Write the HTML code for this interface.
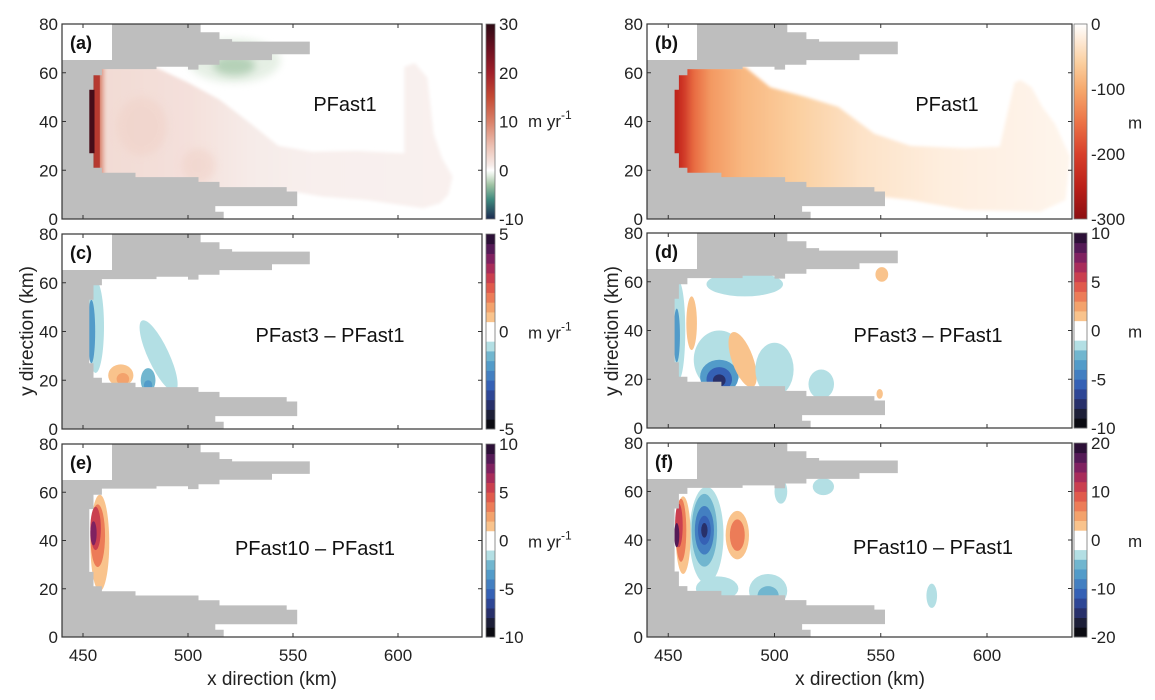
<!DOCTYPE html>
<html><head><meta charset="utf-8"><style>
html,body{margin:0;padding:0;background:#fff;}
svg{display:block;font-family:"Liberation Sans",Arial,sans-serif;}
</style></head><body>
<svg id="fig" width="1155" height="700" viewBox="0 0 1155 700" xmlns="http://www.w3.org/2000/svg">
<defs id="defs"></defs>
</svg>
<script>
// ---- data ----
const xTicks = [450, 500, 550, 600];
const yTicks = [0, 20, 40, 60, 80];
// land mask outline (km)
const landX = [440,506,506,515,515,521,521,558,558,540,540,515,515,505,505,500,500,485,485,459,459,455,455,453,453,455,455,459,459,475,475,505,505,515,515,547,547,552,552,513,513,517,517,440];
const landY = [80,80,76.6,76.6,73.8,73.8,72.8,72.8,67.6,67.6,65.2,65.2,63.3,63.3,61.3,61.3,62.5,62.5,61.5,61.5,59,59,53,53,27,27,21,21,19,19,17.2,17.2,15.2,15.2,13.1,13.1,11.3,11.3,5.3,5.3,3,3,0,0];
// plume outline panel a (km)
const plumeAX = [440,484,500,515,530,543,559,580,603,603,608,614,617,621,626,624,620,612,585,564,552,440];
const plumeAY = [62.5,62.5,56,49,39,30,27.6,28,27,62.5,64,58,35,25,17.4,10,6.4,4.4,7.8,9.2,11,11];
// plume outline panel b (km)
const plumeBX = [440,486,498,515,530,547,564,590,606,610,613,616,621,626,632,639,637,625,590,564,552,440];
const plumeBY = [62.5,62.5,54,50,46,35,30,29,29.7,45,56,57,54,46,39,25.6,7.8,3,3.7,7.8,9,9];
// panel a/b gradient value profiles along x
const gradAX = [453,455.5,458,461,480,500,530,560,640];
const gradAV = [28,17,10,2.5,2.2,2.0,1.0,0.8,0.7];
const gradBX = [453,457,462,470,485,510,540,580,640];
const gradBV = [-250,-215,-160,-115,-85,-60,-35,-20,-12];
// anomaly blobs panel a
const blobAX = [522,522,478,505];
const blobAY = [65,63,38,22];
const blobARX = [22,10,12,8];
const blobARY = [9,4,12,7];
const blobAV = [-1.0,-2.5,3.5,3.5];
// difference panels: contour blobs
const cX = [456,454,468,469,486,481,481];
const cY = [42,40,22,20.5,30,20,18];
const cRX = [4,1.8,6,3,5,3.5,2];
const cRY = [19,13,4.5,2.5,16,5,2];
const cRot = [0,0,0,0,-25,0,0];
const cV = [-0.7,-1.7,0.7,1.2,-0.7,-1.3,-1.8];

const dX = [486,474,455,454,474,474,474,461,485,500,522,550.5,549.5];
const dY = [59,28,40,38,21,20,19.5,43,28,24,18,63,14];
const dRX = [18,12,3,1.5,9,6,3,2.5,5,9,6,3,1.5];
const dRY = [5,12,20,11,7,5,2.5,11,12,11,6,3,2];
const dRot = [0,0,0,0,0,0,0,0,-20,0,0,0,0];
const dV = [-1.5,-1.5,-1.5,-3.5,-3.5,-5.5,-7.5,1.5,1.5,-1.5,-1.5,1.5,1.5];

const eX = [458,457,456,455,507];
const eY = [39,42,45,43,17];
const eRX = [4.5,3.5,2.5,1.5,1.5];
const eRY = [20,13,9,5,1.5];
const eRot = [0,0,0,0,0];
const eV = [1.5,3.5,5.5,7.5,-1];

const fX = [468,473,467,467,467,467,497,497,482.5,482.5,457,456,455,454,523,503,574];
const fY = [42,20,44,44,44,44,19,17,42,42,42,44,46,42,62,60,17];
const fRX = [8,10,6,4.5,3,1.5,9,5,5.5,3.5,3.5,2.5,1.8,1.2,5,3,2.5];
const fRY = [20,5,15,10,6,3,7,4,10,6.5,16,13,9,5,3.5,5,5];
const fRot = [0,0,0,0,0,0,0,0,0,0,0,0,0,0,0,0,0];
const fV = [-3,-3,-6,-9,-12,-15,-3,-6,3,6,3,7,11,17,-3,-3,-3];

// colorbar tick labels
const cbTicksA = [30,20,10,0,-10];
const cbTicksB = [0,-100,-200,-300];
const cbTicksC = [5,0,-5];
const cbTicksD = [10,5,0,-5,-10];
const cbTicksE = [10,5,0,-5,-10];
const cbTicksF = [20,10,0,-10,-20];

// ---- styling / helpers ----
const NS = "http://www.w3.org/2000/svg";
const svg = document.getElementById('fig');
const defs = document.getElementById('defs');
function el(tag, attrs, parent){
  const e = document.createElementNS(NS, tag);
  for (const k in attrs) e.setAttribute(k, attrs[k]);
  (parent||svg).appendChild(e);
  return e;
}
const negCols = ['#0b0b12','#1d1f38','#28306a','#2e4695','#3561b5','#437fc1','#529bc9','#71b6cf','#b3dfe4','#ffffff'];
const posCols = ['#ffffff','#f9c38c','#f3a26c','#ec7c58','#e05a4c','#ca3f4f','#a82c5a','#7f2160','#541a56','#2c1037'];
const divCols = negCols.concat(posCols);
function divColor(v, vmax){
  let idx = Math.floor((v + vmax) / (2*vmax) * 20);
  idx = Math.max(0, Math.min(19, idx));
  return divCols[idx];
}
function lerpHex(a,b,t){
  const pa=[1,3,5].map(i=>parseInt(a.substr(i,2),16));
  const pb=[1,3,5].map(i=>parseInt(b.substr(i,2),16));
  return '#'+pa.map((c,i)=>Math.round(c+(pb[i]-c)*t).toString(16).padStart(2,'0')).join('');
}
const cmapAV = [30,25,20,15,10,5,1,0,-1,-3,-6,-10];
const cmapAC = ['#2d0a14','#6a1020','#a0202a','#c44a34','#d98068','#ecc0b2','#f6ebe8','#ffffff','#e3eee2','#9fc3a3','#3f8a7e','#1c2a50'];
const cmapBV = [0,-30,-60,-100,-150,-200,-250,-300];
const cmapBC = ['#ffffff','#fde6cf','#fbcf9f','#f6a96d','#ec7447','#d8402b','#bb2019','#8c0f12'];
function contColor(v, vs, cs){
  for (let i=0;i<vs.length-1;i++){
    const a=vs[i], b=vs[i+1];
    if ((v<=a && v>=b)) return lerpHex(cs[i], cs[i+1], (a-v)/(a-b));
  }
  return v>vs[0]?cs[0]:cs[cs.length-1];
}

const panels = {
  a:{L:62,R:482,T:24,B:219, cb:[486,495], type:'a'},
  b:{L:647,R:1072,T:24,B:219, cb:[1074,1087], type:'b'},
  c:{L:62,R:482,T:234,B:429, cb:[486,495], type:'d', vmax:5},
  d:{L:647,R:1072,T:233,B:428, cb:[1074,1087], type:'d', vmax:10},
  e:{L:62,R:482,T:444,B:637, cb:[486,495], type:'d', vmax:10},
  f:{L:647,R:1072,T:443,B:637, cb:[1074,1087], type:'d', vmax:20}
};
function xs(p,km){ return p.L + (km-440)*(p.R-p.L)/200; }
function ys(p,km){ return p.B - km*(p.B-p.T)/80; }
function polyPts(p, X, Y){ return X.map((x,i)=>xs(p,x).toFixed(1)+','+ys(p,Y[i]).toFixed(1)).join(' '); }

function drawBlobs(p, g, X, Y, RX, RY, ROT, V, vmax){
  for (let i=0;i<X.length;i++){
    const cx=xs(p,X[i]), cy=ys(p,Y[i]);
    const e = el('ellipse',{cx:cx, cy:cy, rx:RX[i]*(p.R-p.L)/200, ry:RY[i]*(p.B-p.T)/80,
      transform:`rotate(${ROT[i]} ${cx} ${cy})`, fill:divColor(V[i], vmax)}, g);
    
    
  }
}

const labelsTxt = {a:'PFast1', b:'PFast1', c:'PFast3 – PFast1', d:'PFast3 – PFast1', e:'PFast10 – PFast1', f:'PFast10 – PFast1'};
const labelPos = {a:[345,104], b:[947,104], c:[330,335], d:[928,335], e:[315,548], f:[933,547]};
const unitTxt = {a:'m yr', b:'m', c:'m yr', d:'m', e:'m yr', f:'m'};
const cbTicks = {a:cbTicksA,b:cbTicksB,c:cbTicksC,d:cbTicksD,e:cbTicksE,f:cbTicksF};

const sf = el('filter',{id:'soft',x:'-5%',y:'-5%',width:'110%',height:'110%'}, defs);
el('feGaussianBlur',{stdDeviation:1.5}, sf);

for (const key of ['a','b','c','d','e','f']){
  const p = panels[key];
  const g = el('g',{});
  
  
  const cp = el('clipPath',{id:'clip'+key}, defs);
  el('rect',{x:p.L,y:p.T,width:p.R-p.L,height:p.B-p.T}, cp);
  const inner = el('g',{'clip-path':`url(#clip${key})`}, g);
  if (p.type==='a'){
    const lg = el('linearGradient',{id:'gradA',gradientUnits:'userSpaceOnUse',x1:xs(p,440),x2:xs(p,640),y1:0,y2:0}, defs);
    gradAX.forEach((x,i)=>el('stop',{offset:((x-440)/200).toFixed(4),'stop-color':contColor(gradAV[i],cmapAV,cmapAC)}, lg));
    const pl = el('polygon',{points:polyPts(p,plumeAX,plumeAY), fill:'url(#gradA)', filter:'url(#soft)'}, inner);
    
    
    const bf = el('filter',{id:'blurA',x:'-50%',y:'-50%',width:'200%',height:'200%'}, defs);
    el('feGaussianBlur',{stdDeviation:4}, bf);
    for (let i=0;i<blobAX.length;i++){
      const b = el('ellipse',{cx:xs(p,blobAX[i]),cy:ys(p,blobAY[i]),rx:blobARX[i]*2.1,ry:blobARY[i]*2.44,
        fill:contColor(blobAV[i],cmapAV,cmapAC), opacity:i<2?0.9:0.5, filter:'url(#blurA)'}, inner);
      
      
    }
    el('rect',{x:xs(p,453),y:ys(p,53),width:2.1*2.5,height:(53-27)*2.44,fill:contColor(28,cmapAV,cmapAC)}, inner);
    el('rect',{x:xs(p,455.5),y:ys(p,59),width:2.1*2.5,height:(59-21)*2.44,fill:contColor(17,cmapAV,cmapAC)}, inner);
  } else if (p.type==='b'){
    const lg = el('linearGradient',{id:'gradB',gradientUnits:'userSpaceOnUse',x1:xs(p,440),x2:xs(p,640),y1:0,y2:0}, defs);
    gradBX.forEach((x,i)=>el('stop',{offset:((x-440)/200).toFixed(4),'stop-color':contColor(gradBV[i],cmapBV,cmapBC)}, lg));
    const pl = el('polygon',{points:polyPts(p,plumeBX,plumeBY), fill:'url(#gradB)', filter:'url(#soft)'}, inner);
    
    
  } else {
    const D = {c:[cX,cY,cRX,cRY,cRot,cV], d:[dX,dY,dRX,dRY,dRot,dV], e:[eX,eY,eRX,eRY,eRot,eV], f:[fX,fY,fRX,fRY,fRot,fV]}[key];
    drawBlobs(p, inner, D[0], D[1], D[2], D[3], D[4], D[5], p.vmax);
  }
  // land mask
  const land = el('polygon',{points:polyPts(p,landX,landY), fill:'#bebebe'}, inner);
  
  
  // label box
  const lb = el('rect',{x:p.L,y:p.T,width:50,height:36,fill:'#fff'}, g);
  
  
  const lt = el('text',{x:p.L+8,y:p.T+25,'font-size':18,'font-weight':'bold',fill:'#111'}, g);
  lt.textContent = '('+key+')';
  
  
  // frame
  el('rect',{x:p.L,y:p.T,width:p.R-p.L,height:p.B-p.T,fill:'none',stroke:'#333','stroke-width':1.2}, g);
  // ticks
  xTicks.forEach(t=>{
    const x=xs(p,t);
    el('line',{x1:x,x2:x,y1:p.B,y2:p.B-4,stroke:'#333'}, g);
    el('line',{x1:x,x2:x,y1:p.T,y2:p.T+4,stroke:'#333'}, g);
    if (key==='e'||key==='f'){
      const tx = el('text',{x:x,y:p.B+24,'font-size':17,'text-anchor':'middle',fill:'#222'}, g);
      tx.textContent = t;
      
      
    }
  });
  yTicks.forEach(t=>{
    const y=ys(p,t);
    el('line',{x1:p.L,x2:p.L+4,y1:y,y2:y,stroke:'#333'}, g);
    el('line',{x1:p.R,x2:p.R-4,y1:y,y2:y,stroke:'#333'}, g);
    const ty = el('text',{x:p.L-4,y:y+6,'font-size':17,'text-anchor':'end',fill:'#222'}, g);
    ty.textContent = t;
    
    
  });
  // in-panel label
  const it = el('text',{x:labelPos[key][0],y:labelPos[key][1]+7,'font-size':20,'text-anchor':'middle',fill:'#111'}, g);
  it.textContent = labelsTxt[key];
  
  
  // colorbar
  const cbg = el('g',{}, g);
  
  
  const cw = p.cb[1]-p.cb[0], ch = p.B-p.T;
  if (p.type==='d'){
    for (let i=0;i<20;i++){
      el('rect',{x:p.cb[0],y:p.B-(i+1)*ch/20,width:cw,height:ch/20+0.4,fill:divCols[i]}, cbg);
    }
  } else {
    const id='cbg'+key;
    const lg = el('linearGradient',{id:id,x1:0,x2:0,y1:0,y2:1}, defs);
    const vs = p.type==='a'?cmapAV:cmapBV, cs = p.type==='a'?cmapAC:cmapBC;
    const vtop = vs[0], vbot = vs[vs.length-1];
    vs.forEach((v,i)=>el('stop',{offset:((vtop-v)/(vtop-vbot)).toFixed(4),'stop-color':cs[i]}, lg));
    el('rect',{x:p.cb[0],y:p.T,width:cw,height:ch,fill:`url(#${id})`}, cbg);
  }
  el('rect',{x:p.cb[0],y:p.T,width:cw,height:ch,fill:'none',stroke:'#777','stroke-width':0.8}, cbg);
  const ticks = cbTicks[key];
  const tmax = ticks[0], tmin = ticks[ticks.length-1];
  ticks.forEach(t=>{
    const y = p.T + (tmax-t)/(tmax-tmin)*ch;
    const tt = el('text',{x:p.cb[1]+4,y:y+6,'font-size':17,fill:'#222'}, cbg);
    tt.textContent = t;
    
    
  });
  const ux = p.L<300 ? 528 : 1128;
  const uy = key==='a' ? 127 : (p.T+p.B)/2+7;
  const ut = el('text',{x:ux,y:uy,'font-size':17,fill:'#222'}, cbg);
  ut.textContent = unitTxt[key];
  if (unitTxt[key]==='m yr'){
    const sup = el('tspan',{dy:-8,'font-size':12}, ut);
    sup.textContent = '-1';
  }
  
  
  svg.appendChild(g);
}
// axis titles
function title(txt,x,y,rot,name){
  const t = el('text',{x:x,y:y,'font-size':19,'text-anchor':'middle',fill:'#222',transform:rot?`rotate(-90 ${x} ${y})`:''});
  t.textContent = txt;
  
  
}
title('x direction (km)', 272, 685, false, 'x-axis-title-left');
title('x direction (km)', 860, 685, false, 'x-axis-title-right');
title('y direction (km)', 33, 331, true, 'y-axis-title-left');
title('y direction (km)', 618, 331, true, 'y-axis-title-right');
</script>
</body></html>
